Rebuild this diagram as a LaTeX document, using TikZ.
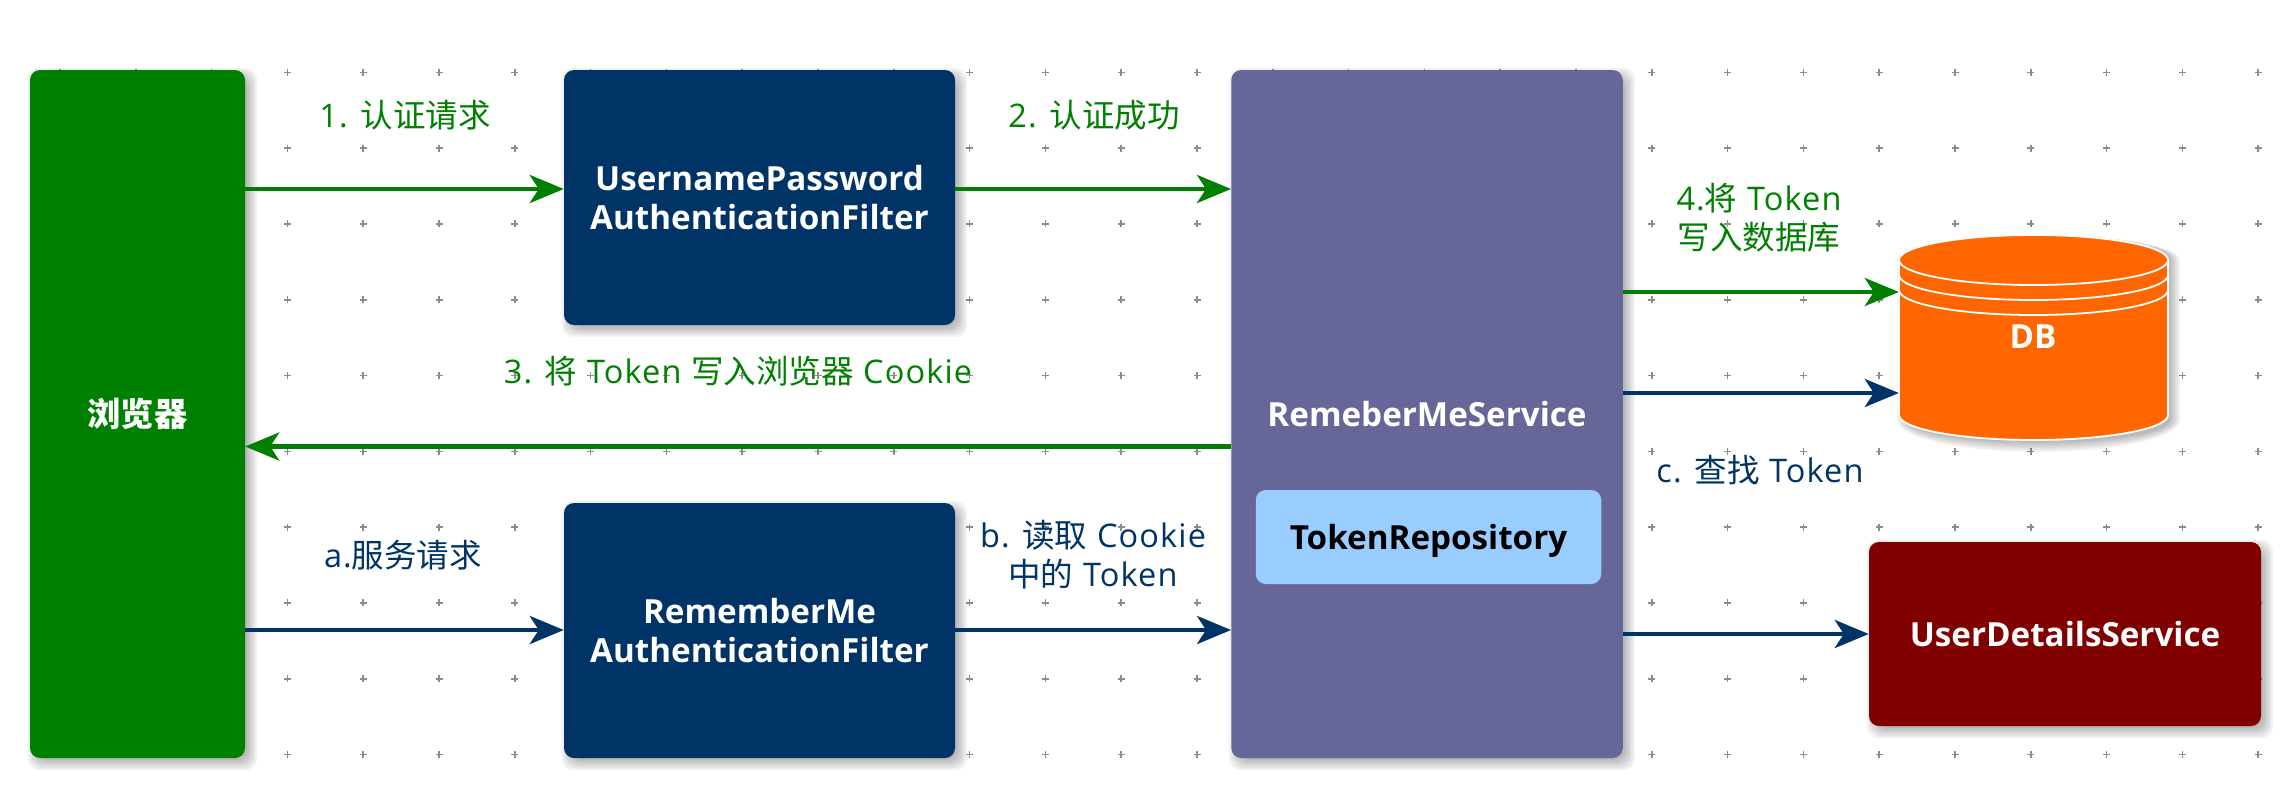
\documentclass[tikz,border=0pt]{standalone}
\usepackage{fontspec}
\setmainfont{Open Sans}
\newfontfamily\cjk{Noto Sans CJK SC}
\newfontfamily\lab[LetterSpace=3.5]{Open Sans}
\usetikzlibrary{arrows.meta,calc}
\definecolor{cgreen}{HTML}{008000}
\definecolor{cblue}{HTML}{003366}
\definecolor{cpurple}{HTML}{666699}
\definecolor{clight}{HTML}{99CCFF}
\definecolor{corange}{HTML}{FF6600}
\definecolor{cred}{HTML}{800000}
\definecolor{cdot}{HTML}{8C8C8C}
\pgfdeclarelayer{gridlayer}
\pgfdeclarelayer{shadowlayer}
\pgfsetlayers{gridlayer,shadowlayer,main}
\newcommand{\zh}[1]{{\cjk #1}}
\newcommand{\softshadow}[1]{%
  \begin{pgfonlayer}{shadowlayer}
  \foreach \d in {-3,-1,1,3,5,7}{
    \fill[black,opacity=0.05,rounded corners=12pt]
      ([shift={(5-\d,5-\d)}]#1.north west) rectangle ([shift={(5+\d,5+\d)}]#1.south east);
  }
  \end{pgfonlayer}}
\tikzset{
  boxnode/.style={rounded corners=10pt,inner sep=0pt,align=center,text=white,font=\fontsize{33.2}{39.5}\selectfont\bfseries},
  arr/.style={line width=4.6pt,-{Stealth[length=34pt,width=28pt,inset=9pt]}},
  garr/.style={arr,draw=cgreen,color=cgreen},
  barr/.style={arr,draw=cblue,color=cblue},
  glabel/.style={text=cgreen,align=center,inner sep=0pt,font=\fontsize{32.5}{39}\selectfont\lab},
  blabel/.style={text=cblue,align=center,inner sep=0pt,font=\fontsize{32.5}{39}\selectfont\lab},
}
\begin{document}
\begin{tikzpicture}[x=1pt,y=-1pt]
\useasboundingbox (0,0) rectangle (2284,806);
\begin{pgfonlayer}{gridlayer}
\fill[white] (0,0) rectangle (2284,806);
\foreach \i in {0,...,29}{
  \foreach \j in {0,...,9}{
    \pgfmathsetmacro{\gx}{60+75.8*\i}
    \pgfmathsetmacro{\gy}{72.3+75.8*\j}
    \draw[cdot,line width=1.6pt] (\gx-3.5,\gy) -- (\gx+3.5,\gy) (\gx,\gy-3.5) -- (\gx,\gy+3.5);
  }
}
\end{pgfonlayer}
% y levels of the connectors
\coordinate (y1) at (0,189);
\coordinate (y3) at (0,446.5);
\coordinate (y4) at (0,292);
\coordinate (yc) at (0,393);
\coordinate (ya) at (0,630);
\coordinate (yu) at (0,634);
% boxes
\node[boxnode,fill=cgreen,minimum width=215pt,minimum height=688pt] (browser) at (137.5,414) {\zh{浏览器}};
\node[boxnode,fill=cblue,minimum width=391pt,minimum height=255pt] (upf) at (759.5,197.5) {UsernamePassword\\AuthenticationFilter};
\node[boxnode,fill=cblue,minimum width=391pt,minimum height=255pt] (rmf) at (759.5,630.5) {RememberMe\\AuthenticationFilter};
\node[boxnode,fill=cpurple,minimum width=391.5pt,minimum height=688pt,text depth=0pt] (svc) at (1427,414) {RemeberMeService};
\node[boxnode,fill=clight,text=black,minimum width=345.5pt,minimum height=94pt,text depth=0pt] (repo) at (1428.5,537) {TokenRepository};
\node[boxnode,fill=cred,minimum width=392pt,minimum height=184pt] (uds) at (2065,634) {UserDetailsService};
\softshadow{browser}
\softshadow{upf}
\softshadow{rmf}
\softshadow{svc}
\softshadow{uds}
% database
\begin{pgfonlayer}{shadowlayer}
\foreach \d in {-3,-1,1,3,5,7}{
  \fill[black,opacity=0.05] (1899+5-\d,260) arc[start angle=180,end angle=360,x radius=134.5+\d,y radius=25]
    -- (2168+5+\d,420) arc[start angle=0,end angle=180,x radius=134.5+\d,y radius=25+\d] -- cycle;
}
\end{pgfonlayer}
\filldraw[fill=corange,draw=white,line width=1.8pt]
  (1899,260) arc[start angle=180,end angle=360,x radius=134.5,y radius=25]
  -- (2168,415) arc[start angle=0,end angle=180,x radius=134.5,y radius=25] -- cycle;
\draw[white,line width=1.8pt] (1899,260) arc[start angle=180,end angle=0,x radius=134.5,y radius=25];
\draw[white,line width=1.8pt] (1899,275) arc[start angle=180,end angle=0,x radius=134.5,y radius=25];
\draw[white,line width=1.8pt] (1899,290) arc[start angle=180,end angle=0,x radius=134.5,y radius=25];
\node[minimum width=269pt,minimum height=205pt,inner sep=0pt] (db) at (2033.5,337.5) {};
\node[boxnode] (dbtext) at (2033,337) {DB};
% connectors
\draw[garr] (browser.east |- y1) -- (upf.west |- y1);
\draw[garr] (upf.east |- y1) -- (svc.west |- y1);
\draw[garr] (svc.west |- y3) -- (browser.east |- y3);
\draw[garr] (svc.east |- y4) -- (db.west |- y4);
\draw[barr] (svc.east |- yc) -- (db.west |- yc);
\draw[barr] (browser.east |- ya) -- (rmf.west |- ya);
\draw[barr] (rmf.east |- ya) -- (svc.west |- ya);
\draw[barr] (svc.east |- yu) -- (uds.west |- yu);
% labels
\node[glabel] (l1) at (405,115) {1. \zh{认证请求}};
\node[glabel] (l2) at (1094,115) {2. \zh{认证成功}};
\node[glabel] (l3) at (738,371) {3. \zh{将} Token \zh{写入浏览器} Cookie};
\node[glabel] (l4) at (1759,217.5) {4.\zh{将} Token\\\zh{写入数据库}};
\node[blabel] (lc) at (1760,470) {c. \zh{查找} Token};
\node[blabel] (la) at (403,555) {a.\zh{服务请求}};
\node[blabel] (lb) at (1093,555) {b. \zh{读取} Cookie\\\zh{中的} Token};
\end{tikzpicture}
\end{document}
